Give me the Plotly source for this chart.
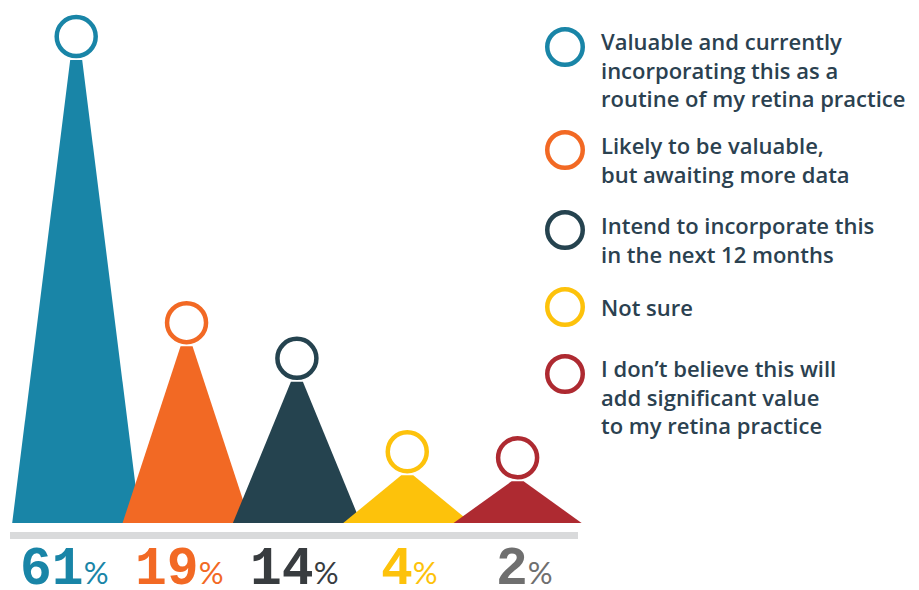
import plotly.graph_objects as go

# ---- data ----
categories = [
    "Valuable and currently\nincorporating this as a\nroutine of my retina practice",
    "Likely to be valuable,\nbut awaiting more data",
    "Intend to incorporate this\nin the next 12 months",
    "Not sure",
    "I don\u2019t believe this will\nadd significant value\nto my retina practice",
]
percent_values = [61, 19, 14, 4, 2]
# apparent peak heights of the drawn cones (read from the graphic, same scale as 61 = tallest)
peak_heights = [61, 23.3, 18.6, 6.3, 5.5]

colors = ["#1985a7", "#f26924", "#25434f", "#fdc20b", "#ae2a31"]
label_colors = ["#1985a7", "#f26924", "#383c3f", "#fdc20b", "#6f6f6f"]
text_color = "#2b4150"

# ---- layout geometry (pixel based) ----
W, H = 919, 590
px_step = 110.35          # px between cone centres
first_center = 76.2       # px of first centre
base_px = 523             # baseline px from top
px_per_unit = 7.59        # vertical px per value unit
half_base = 64 / px_step
half_top = 6 / px_step
circle_offset = 23.5 / px_per_unit
label_first_px, label_step_px = 64, 115

xmin = -first_center / px_step
xmax = xmin + W / px_step
ymin = -(H - base_px) / px_per_unit
ymax = ymin + H / px_per_unit

fig = go.Figure()

for i, (h, c) in enumerate(zip(peak_heights, colors)):
    fig.add_trace(go.Scatter(
        x=[i - half_base, i - half_top, i + half_top, i + half_base, i - half_base],
        y=[0, h, h, 0, 0],
        mode="lines", fill="toself", fillcolor=c,
        line=dict(color=c, width=0), hoverinfo="skip",
    ))

fig.add_trace(go.Scatter(
    x=list(range(len(peak_heights))),
    y=[h + circle_offset for h in peak_heights],
    mode="markers",
    marker=dict(symbol="circle", size=39, color="white",
                line=dict(color=colors, width=4.5)),
    hoverinfo="skip",
))

shapes = []
# grey base bar
shapes.append(dict(type="rect", xref="paper", yref="paper",
                   x0=10 / W, x1=578 / W, y0=(H - 539) / H, y1=(H - 532) / H,
                   fillcolor="#d9dadb", line=dict(width=0), layer="below"))

annotations = []
# percentage labels
for i, (v, c) in enumerate(zip(percent_values, label_colors)):
    annotations.append(dict(
        x=(label_first_px + i * label_step_px) / W, xref="paper",
        y=(H - 570) / H, yref="paper",
        text=f"<b>{v}</b><span style='font-family:Lato;font-size:31px'>%</span>",
        showarrow=False, xanchor="center", yanchor="middle",
        font=dict(family="Liberation Mono", size=53, color=c),
    ))

# custom legend
legend_circle_y = [47, 150, 230, 307, 374]
legend_first_baseline = [49, 153, 233, 315, 376]
r = 17.75
cx = 565
fs = 22
for cy, b0, c, cat in zip(legend_circle_y, legend_first_baseline, colors, categories):
    shapes.append(dict(type="circle", xref="paper", yref="paper",
                       x0=(cx - r) / W, x1=(cx + r) / W,
                       y0=(H - (cy + r)) / H, y1=(H - (cy - r)) / H,
                       line=dict(color=c, width=4.5), fillcolor="white"))
    lines = cat.split("\n")
    center = (b0 - 0.36 * fs) + (len(lines) - 1) * 1.3 * fs / 2
    annotations.append(dict(
        x=599 / W, xref="paper", y=(H - center) / H, yref="paper",
        text="<br>".join(lines), showarrow=False,
        xanchor="left", yanchor="middle", align="left",
        font=dict(family="Open Sans", size=fs, color=text_color, weight=600),
    ))

fig.update_layout(
    width=W, height=H,
    margin=dict(l=0, r=0, t=0, b=0),
    paper_bgcolor="white", plot_bgcolor="white",
    showlegend=False,
    xaxis=dict(range=[xmin, xmax], visible=False, fixedrange=True),
    yaxis=dict(range=[ymin, ymax], visible=False, fixedrange=True),
    shapes=shapes, annotations=annotations,
    hovermode=False,
)

fig.write_html("out.html", config={"displayModeBar": False},
               post_script="document.body.style.margin='0';document.body.style.overflow='hidden';")
